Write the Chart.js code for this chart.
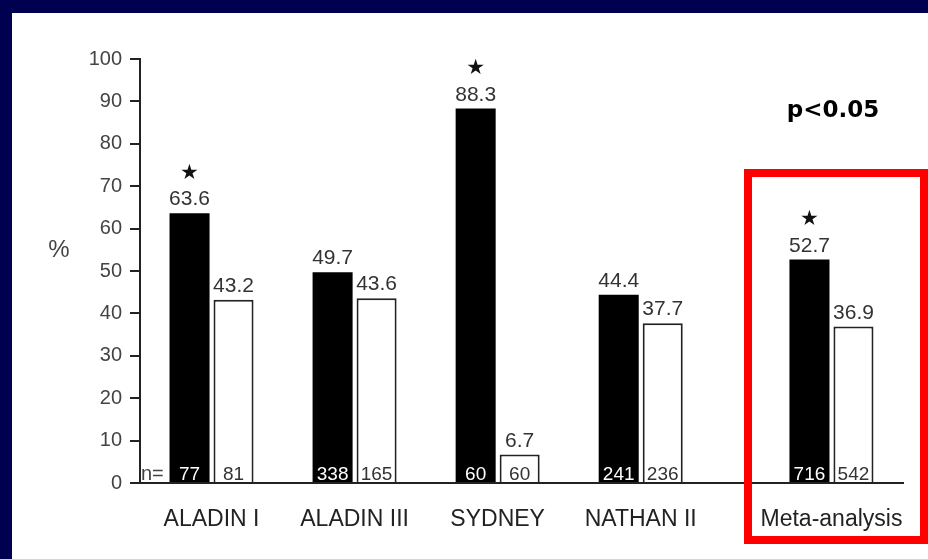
<!DOCTYPE html>
<html>
<head>
<meta charset="utf-8">
<script src="https://cdn.jsdelivr.net/npm/chart.js@4.4.1/dist/chart.umd.min.js"></script>
<style>
  html, body { margin: 0; padding: 0; background: #ffffff; }
  #wrap { width: 928px; height: 559px; }
</style>
</head>
<body>
<div id="wrap"><canvas id="c" width="928" height="559"></canvas></div>
<script>
// ---- data ----
const categories = ['ALADIN I', 'ALADIN III', 'SYDNEY', 'NATHAN II', 'Meta-analysis'];
const blackValues = [63.6, 49.7, 88.3, 44.4, 52.7];
const whiteValues = [43.2, 43.6, 6.7, 37.7, 36.9];
const blackN = [77, 338, 60, 241, 716];
const whiteN = [81, 165, 60, 236, 542];
const significant = [true, false, true, false, true];
const yTicks = [0, 10, 20, 30, 40, 50, 60, 70, 80, 90, 100];

// ---- layout: categories sit on a finer slot grid (meta-analysis set apart) ----
const slotOf = [1, 4, 7, 10, 14];
const totalSlots = 16;

const labels = [];
const blackData = [];
const whiteData = [];
for (let s = 0; s < totalSlots; s++) {
  const i = slotOf.indexOf(s);
  labels.push(i >= 0 ? categories[i] : '');
  blackData.push(i >= 0 ? blackValues[i] : null);
  whiteData.push(i >= 0 ? whiteValues[i] : null);
}

const FONT = '"Liberation Sans", Arial, Helvetica, sans-serif';

const backgroundPlugin = {
  id: 'bg',
  beforeDraw(chart) {
    const ctx = chart.ctx;
    ctx.save();
    ctx.fillStyle = '#000050';
    ctx.fillRect(0, 0, chart.width, chart.height);
    ctx.fillStyle = '#ffffff';
    ctx.fillRect(12, 13, chart.width - 12, chart.height - 13);
    ctx.restore();
  }
};

const labelPlugin = {
  id: 'barLabels',
  afterDatasetsDraw(chart) {
    const ctx = chart.ctx;
    const m0 = chart.getDatasetMeta(0);
    const m1 = chart.getDatasetMeta(1);
    const base = chart.scales.y.getPixelForValue(0);
    ctx.save();
    ctx.textAlign = 'center';
    ctx.textBaseline = 'alphabetic';
    categories.forEach((c, i) => {
      const s = slotOf[i];
      const b = m0.data[s];
      const w = m1.data[s];
      ctx.font = '21px ' + FONT;
      ctx.fillStyle = '#333';
      ctx.fillText(blackValues[i].toFixed(1), b.x, b.y - 8);
      ctx.fillText(whiteValues[i].toFixed(1), w.x, w.y - 8);
      if (significant[i]) {
        ctx.font = '21px "DejaVu Sans", sans-serif';
        ctx.fillStyle = '#111';
        ctx.textBaseline = 'middle';
        ctx.fillText('\u2605', b.x, b.y - 40);
        ctx.textBaseline = 'alphabetic';
      }
      ctx.font = '19px ' + FONT;
      ctx.fillStyle = '#ffffff';
      ctx.fillText(String(blackN[i]), b.x, base - 3);
      ctx.fillStyle = '#333';
      ctx.fillText(String(whiteN[i]), w.x, base - 3);
    });
    ctx.textAlign = 'left';
    ctx.font = '20px ' + FONT;
    ctx.fillStyle = '#444';
    ctx.fillText('n=', chart.chartArea.left + 1, base - 3);
    ctx.restore();
  }
};

const annotationPlugin = {
  id: 'annot',
  afterDraw(chart) {
    const ctx = chart.ctx;
    ctx.save();
    // y axis unit
    ctx.font = '24px ' + FONT;
    ctx.fillStyle = '#444';
    ctx.textAlign = 'center';
    ctx.textBaseline = 'middle';
    ctx.fillText('%', 59, 250);
    // significance note
    ctx.font = 'bold 23px "DejaVu Sans", sans-serif';
    ctx.fillStyle = '#000';
    ctx.textBaseline = 'alphabetic';
    ctx.fillText('p<0.05', 833, 117);
    // red highlight box
    ctx.strokeStyle = '#ff0000';
    ctx.lineWidth = 8;
    ctx.strokeRect(748, 173, 176, 367);
    ctx.restore();
  }
};

new Chart(document.getElementById('c'), {
  type: 'bar',
  data: {
    labels: labels,
    datasets: [
      {
        label: 'Treatment',
        data: blackData,
        backgroundColor: '#000000',
        borderColor: '#000000',
        borderWidth: 0,
        categoryPercentage: 1.845,
        barPercentage: 0.91
      },
      {
        label: 'Control',
        data: whiteData,
        backgroundColor: '#ffffff',
        borderColor: '#222222',
        borderWidth: 2,
        categoryPercentage: 1.845,
        barPercentage: 0.91
      }
    ]
  },
  options: {
    responsive: false,
    animation: false,
    devicePixelRatio: 1,
    layout: { padding: { top: 59, right: 25, bottom: 0, left: 0 } },
    plugins: {
      legend: { display: false },
      tooltip: { enabled: false },
      title: { display: false }
    },
    scales: {
      x: {
        type: 'category',
        offset: true,
        grid: { display: false },
        border: { display: true, color: '#222', width: 2 },
        ticks: {
          autoSkip: false,
          maxRotation: 0,
          minRotation: 0,
          padding: 15,
          color: '#222',
          font: { family: FONT, size: 23 }
        },
        afterFit(scale) { scale.height = 76; }
      },
      y: {
        min: 0,
        max: 100,
        afterBuildTicks(scale) { scale.ticks = yTicks.map(v => ({ value: v })); },
        grid: {
          display: true,
          drawOnChartArea: false,
          drawTicks: true,
          tickLength: 10,
          color: '#222',
          lineWidth: 2
        },
        border: { display: true, color: '#222', width: 2 },
        ticks: {
          padding: 8,
          color: '#444',
          font: { family: FONT, size: 20 }
        },
        afterFit(scale) { scale.width = 140; }
      }
    }
  },
  plugins: [backgroundPlugin, labelPlugin, annotationPlugin]
});
</script>
</body>
</html>
